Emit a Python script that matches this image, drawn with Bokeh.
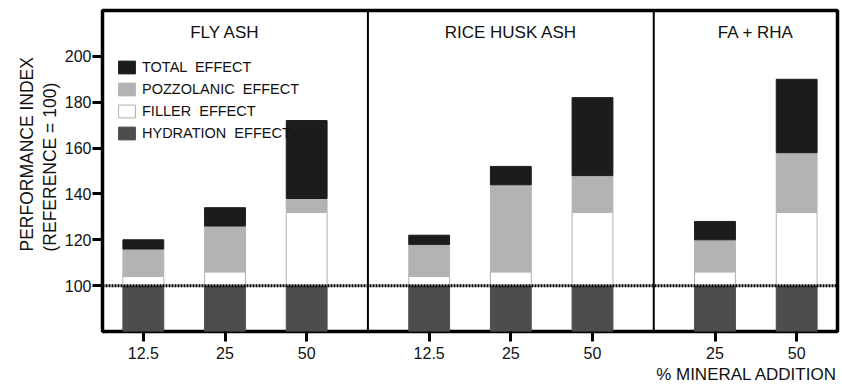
from bokeh.plotting import figure
from bokeh.models import (ColumnDataSource, Span, FixedTicker, Legend, LegendItem,
                          Title)
from bokeh.core.properties import value
from bokeh.embed import file_html
from bokeh.resources import INLINE

# ---- data ----
groups = ["FLY ASH", "RICE HUSK ASH", "FA + RHA"]
group_centers = [1.5, 5.0, 8.0]
group_dividers = [3.25, 6.75]
bar_x = [0.5, 1.5, 2.5, 4.0, 5.0, 6.0, 7.5, 8.5]
bar_labels = ["12.5", "25", "50", "12.5", "25", "50", "25", "50"]
hydration = [100, 100, 100, 100, 100, 100, 100, 100]
filler = [104, 106, 132, 104, 106, 132, 106, 132]
pozzolanic = [116, 126, 138, 118, 144, 148, 120, 158]
total = [120, 134, 172, 122, 152, 182, 128, 190]
y_ticks = [100, 120, 140, 160, 180, 200]
y_title = ["PERFORMANCE INDEX", "(REFERENCE = 100)"]
x_title = "% MINERAL ADDITION"
base = 80

FONT = "Liberation Sans"
TXT = "#111111"

src = ColumnDataSource(dict(x=bar_x, base=[base] * len(bar_x), hyd=hydration,
                            fil=filler, poz=pozzolanic, tot=total))

p = figure(width=842, height=385, x_range=(0, 9), y_range=(80, 220),
           output_backend="svg", toolbar_location=None,
           min_border_left=102, min_border_right=5, min_border_top=10,
           min_border_bottom=10)
p.grid.visible = False
p.outline_line_color = "black"
p.outline_line_width = 3.5
p.background_fill_color = "white"
p.border_fill_color = "white"

w = 0.5
r_hyd = p.vbar(x="x", bottom="base", top="hyd", width=w, source=src,
               fill_color="#4d4d4d", line_color="#4d4d4d")
r_fil = p.vbar(x="x", bottom="hyd", top="fil", width=w, source=src,
               fill_color="white", line_color="#b0b0b0", line_width=1)
r_poz = p.vbar(x="x", bottom="fil", top="poz", width=w, source=src,
               fill_color="#b3b3b3", line_color="#b3b3b3")
r_tot = p.vbar(x="x", bottom="poz", top="tot", width=w, source=src,
               fill_color="#1c1c1c", line_color="#1c1c1c")

# reference line
p.add_layout(Span(location=100, dimension="width", line_color="black",
                  line_width=3, line_dash="2 1"))
for d in group_dividers:
    p.add_layout(Span(location=d, dimension="height", line_color="black",
                      line_width=2))

# group titles
p.text(x=group_centers, y=[210.5] * 3, text=groups, text_align="center",
       text_baseline="middle", text_font=value(FONT), text_font_size="17px",
       text_color=TXT)

# axes
ya = p.yaxis[0]
ya.ticker = FixedTicker(ticks=y_ticks)
ya.axis_line_color = None
ya.major_tick_in = 0
ya.major_tick_out = 10
ya.major_tick_line_width = 3
ya.minor_tick_line_color = None
ya.major_label_text_font = FONT
ya.major_label_text_font_size = "16px"
ya.major_label_text_color = TXT
ya.major_label_standoff = 1

# y-axis title as two stacked left-side titles (inner line added first)
for txt, so in zip(reversed(y_title), [4, -3]):
    p.add_layout(Title(text=txt, align="left", offset=80, standoff=so,
                       text_font=FONT, text_font_size="17.5px",
                       text_font_style="normal", text_color=TXT), "left")

xa = p.xaxis[0]
xa.ticker = FixedTicker(ticks=bar_x)
xa.major_label_overrides = {x: l for x, l in zip(bar_x, bar_labels)}
xa.axis_line_color = None
xa.major_tick_in = 0
xa.major_tick_out = 10
xa.major_tick_line_width = 3
xa.minor_tick_line_color = None
xa.major_label_text_font = FONT
xa.major_label_text_font_size = "16px"
xa.major_label_text_color = TXT
xa.major_label_standoff = 5

p.add_layout(Title(text=x_title, align="right",
                   text_font=FONT, text_font_size="17px",
                   text_font_style="normal", text_color=TXT,
                   standoff=3, offset=0), "below")

legend = Legend(items=[LegendItem(label="TOTAL  EFFECT", renderers=[r_tot]),
                       LegendItem(label="POZZOLANIC  EFFECT", renderers=[r_poz]),
                       LegendItem(label="FILLER  EFFECT", renderers=[r_fil]),
                       LegendItem(label="HYDRATION  EFFECT", renderers=[r_hyd])],
                location=(14, 190), margin=0, padding=0, spacing=6,
                glyph_width=21, glyph_height=16, label_height=16,
                label_standoff=5, border_line_color=None,
                background_fill_alpha=0,
                label_text_font=FONT, label_text_font_size="14.5px",
                label_text_color=TXT)
p.add_layout(legend, "center")

open("out.html", "w").write(file_html(p, INLINE))
